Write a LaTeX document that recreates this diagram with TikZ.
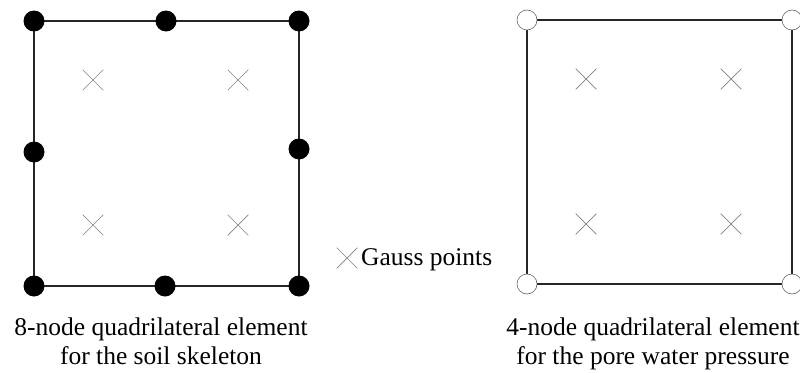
\documentclass[tikz,border=0pt]{standalone}
\usepackage{fontspec}
\setmainfont{Liberation Serif}
\usetikzlibrary{shapes.misc}
\begin{document}
\begin{tikzpicture}[x=1pt,y=-1pt,
  edge/.style={draw=black!85, line width=1.1pt},
  solidnode/.style={circle, fill=black, draw=none, minimum size=21pt, inner sep=0pt},
  opennode/.style={circle, fill=white, draw=black!60, line width=0.6pt, minimum size=20pt, inner sep=0pt},
  gauss/.style={cross out, draw=black!50, line width=0.7pt, minimum size=20pt, inner sep=0pt},
  caption/.style={align=center, font=\fontsize{25.5}{29}\selectfont, inner sep=0pt, anchor=north}
]
\useasboundingbox (0,0) rectangle (800,372);
% ---- left element (8 nodes)
\coordinate (a1) at (34,21);
\coordinate (a2) at (166,21);
\coordinate (a3) at (299,21);
\coordinate (a4) at (299,149);
\coordinate (a5) at (299,286);
\coordinate (a6) at (165,286);
\coordinate (a7) at (34,286);
\coordinate (a8) at (34,152);
\draw[edge] (a1) -- (a2) -- (a3) -- (a4) -- (a5) -- (a6) -- (a7) -- (a8) -- cycle;
\foreach \n in {a1,a2,a3,a4,a5,a6,a7,a8} \node[solidnode] (n\n) at (\n) {};
\node[gauss] (g1) at (93,80) {};
\node[gauss] (g2) at (238,80) {};
\node[gauss] (g3) at (93,225) {};
\node[gauss] (g4) at (238,225) {};
% ---- right element (4 nodes)
\coordinate (b1) at (527,20);
\coordinate (b2) at (792,20);
\coordinate (b3) at (792,284);
\coordinate (b4) at (527,284);
\draw[edge] (b1) -- (b2) -- (b3) -- (b4) -- cycle;
\foreach \n in {b1,b2,b3,b4} \node[opennode] (n\n) at (\n) {};
\node[gauss] (h1) at (586,79) {};
\node[gauss] (h2) at (731,79) {};
\node[gauss] (h3) at (586,224) {};
\node[gauss] (h4) at (731,224) {};
% ---- legend
\node[gauss] (lg) at (347,258) {};
\node[anchor=base west, inner sep=0pt, font=\fontsize{25.5}{29}\selectfont] (lt) at (361,265) {Gauss points};
% ---- captions
\node[caption] (c1) at (161,318) {8-node quadrilateral element\\for the soil skeleton};
\node[caption] (c2) at (653,318) {4-node quadrilateral element\\for the pore water pressure};
\end{tikzpicture}
\end{document}
